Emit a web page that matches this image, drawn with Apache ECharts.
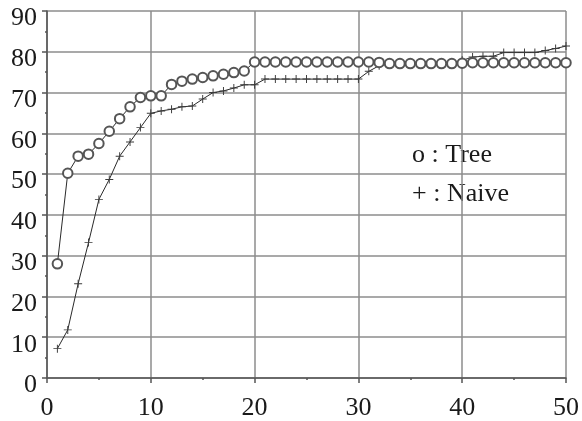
<!DOCTYPE html>
<html>
<head>
<meta charset="utf-8">
<script src="https://cdn.jsdelivr.net/npm/echarts@6/dist/echarts.min.js"></script>
<style>
html,body{margin:0;padding:0;background:#fff;}
#chart{width:582px;height:421px;}
</style>
</head>
<body>
<div id="chart"></div>
<script>
var xValues = [1,2,3,4,5,6,7,8,9,10,11,12,13,14,15,16,17,18,19,20,21,22,23,24,25,26,27,28,29,30,31,32,33,34,35,36,37,38,39,40,41,42,43,44,45,46,47,48,49,50];
var treeValues = [28.0,50.2,54.4,54.9,57.5,60.5,63.6,66.5,68.8,69.2,69.2,72.0,72.8,73.3,73.7,74.1,74.5,74.9,75.3,77.5,77.5,77.5,77.5,77.5,77.5,77.5,77.5,77.5,77.5,77.5,77.5,77.4,77.1,77.1,77.1,77.1,77.1,77.1,77.1,77.2,77.3,77.3,77.3,77.3,77.3,77.3,77.3,77.3,77.3,77.3];
var naiveValues = [7.2,11.8,23.1,33.2,43.8,48.7,54.4,57.9,61.4,64.9,65.5,65.9,66.5,66.7,68.4,70.0,70.4,71.1,71.9,71.9,73.3,73.3,73.3,73.3,73.3,73.3,73.3,73.3,73.3,73.3,75.2,76.6,77.0,77.1,77.1,77.1,77.1,77.2,77.3,77.9,78.7,78.9,78.9,79.8,79.8,79.8,79.8,80.3,80.8,81.4];
var xTicks = [0,10,20,30,40,50];
var yTicks = [0,10,20,30,40,50,60,70,80,90];
var legendLabels = ['o : Tree', '+ : Naive'];

function pairs(xs, ys){ return xs.map(function(x,i){ return [x, ys[i]]; }); }

var font = '"Liberation Serif", "Times New Roman", serif';
var plusPath = 'path://M4.4,0h1.2v4.4h4.4v1.2h-4.4v4.4h-1.2v-4.4h-4.4v-1.2h4.4z';

var chart = echarts.init(document.getElementById('chart'), null, {renderer:'canvas'});
chart.setOption({
  animation:false,
  backgroundColor:'#fff',
  textStyle:{fontFamily:font},
  grid:{left:47, right:14, top:11, bottom:43, containLabel:false},
  xAxis:{
    type:'value', min:xTicks[0], max:xTicks[xTicks.length-1], interval:10,
    axisLine:{show:true, onZero:false, lineStyle:{color:'#555', width:1.5}},
    axisTick:{show:true, inside:false, length:5, lineStyle:{color:'#555', width:1.5}},
    minorTick:{show:true, splitNumber:2, length:2, lineStyle:{color:'#555', width:1.5}},
    splitLine:{show:true, lineStyle:{color:'#8c8c8c', width:1.5}},
    axisLabel:{fontFamily:font, fontSize:26, color:'#1a1a1a', margin:17}
  },
  yAxis:{
    type:'value', min:yTicks[0], max:yTicks[yTicks.length-1], interval:10,
    axisLine:{show:true, onZero:false, lineStyle:{color:'#555', width:1.5}},
    axisTick:{show:true, inside:false, length:5, lineStyle:{color:'#555', width:1.5}},
    minorTick:{show:true, splitNumber:2, length:2, lineStyle:{color:'#555', width:1.5}},
    splitLine:{show:true, lineStyle:{color:'#8c8c8c', width:1.5}},
    axisLabel:{fontFamily:font, fontSize:26, color:'#1a1a1a', margin:10, verticalAlign:'top', lineHeight:15}
  },
  series:[
    {
      name:'Naive', type:'line', data:pairs(xValues, naiveValues),
      symbol:plusPath, symbolSize:8, showAllSymbol:true,
      lineStyle:{color:'#2a2a2a', width:1},
      itemStyle:{color:'#3a3a3a'}
    },
    {
      name:'Tree', type:'line', data:pairs(xValues, treeValues),
      symbol:'emptyCircle', symbolSize:9.5, showAllSymbol:true,
      lineStyle:{color:'#2a2a2a', width:1},
      itemStyle:{color:'#555', borderColor:'#555', borderWidth:1.2}
    }
  ],
  graphic:[
    {type:'text', left:412, top:142, style:{text:legendLabels[0], font:'26px "Liberation Serif"', fill:'#1a1a1a'}},
    {type:'text', left:412, top:181, style:{text:legendLabels[1], font:'26px "Liberation Serif"', fill:'#1a1a1a'}}
  ]
});
</script>
</body>
</html>
